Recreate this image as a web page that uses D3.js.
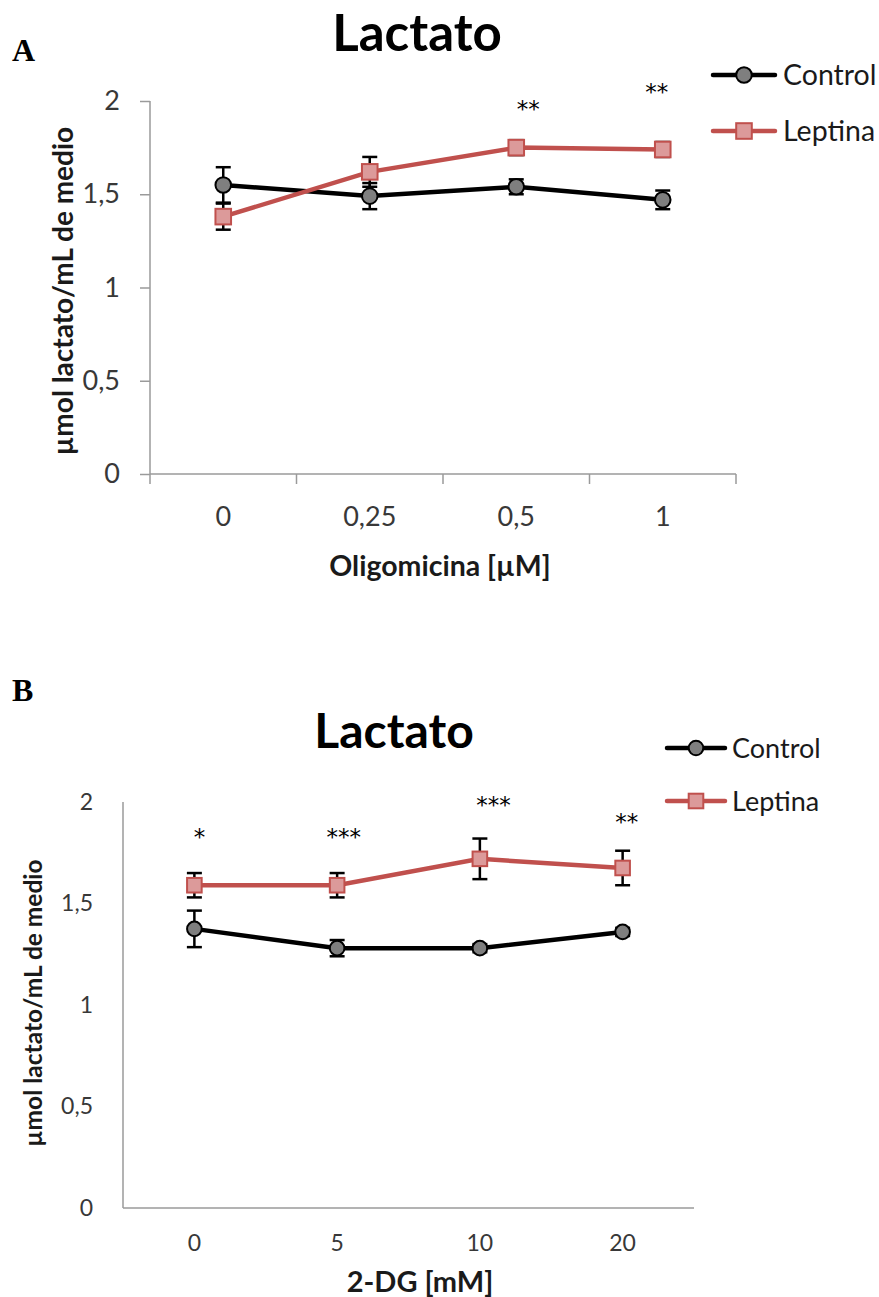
<!DOCTYPE html>
<html>
<head>
<meta charset="utf-8">
<script src="https://cdn.jsdelivr.net/npm/d3@7"></script>
<style>
  body { margin: 0; background: #fff; }
  svg text { font-family: Lato, "Open Sans", sans-serif; }
</style>
</head>
<body>
<svg id="chart" width="879" height="1297"></svg>
<script>
/* Data */
const SERIES = ['Control', 'Leptina'];
const Y_TICKS = [0, 0.5, 1, 1.5, 2];

// Panel A - Oligomicina
const A_CATEGORIES = ['0', '0,25', '0,5', '1'];
const A_CONTROL = [1.55, 1.49, 1.54, 1.47];
const A_CONTROL_ERR = [0.095, 0.07, 0.04, 0.05];
const A_LEPTINA = [1.38, 1.62, 1.75, 1.74];
const A_LEPTINA_ERR = [0.07, 0.08, 0.04, 0.04];
const A_STARS = ['', '', '**', '**'];

// Panel B - 2-DG
const B_CATEGORIES = ['0', '5', '10', '20'];
const B_CONTROL = [1.375, 1.28, 1.28, 1.36];
const B_CONTROL_ERR = [0.09, 0.04, 0.02, 0.02];
const B_LEPTINA = [1.59, 1.59, 1.72, 1.675];
const B_LEPTINA_ERR = [0.06, 0.06, 0.1, 0.085];
const B_STARS = ['*', '***', '***', '**'];

/* Style */
const RED = '#c0504d';
const PINK = '#dc9a9a';
const AXIS = '#9a9a9a';
const fmt = v => String(v).replace('.', ',');

const svg = d3.select('#chart');

function drawPanel(p) {
  const g = svg.append('g');

  const x = d3.scaleBand()
    .domain(p.categories)
    .range([p.left, p.right]);
  const y = d3.scaleLinear()
    .domain([0, 2])
    .range([p.bottom, p.top]);

  // panel letter
  g.append('text')
    .attr('x', 12).attr('y', p.letterY)
    .style('font-family', '"Liberation Serif", serif')
    .style('font-weight', 'bold')
    .style('font-size', '32px')
    .text(p.letter);

  // title
  g.append('text')
    .attr('x', p.titleX).attr('y', p.titleY)
    .attr('text-anchor', 'middle')
    .style('font-weight', 'bold')
    .style('font-size', p.titleSize)
    .text('Lactato');

  // y axis
  const yAxis = g.append('g')
    .attr('transform', `translate(${p.left},0)`)
    .call(d3.axisLeft(y).tickValues(Y_TICKS).tickFormat(fmt)
      .tickSize(p.ticks ? 10 : 0).tickPadding(p.yLabelPad));
  yAxis.select('.domain').attr('stroke', AXIS).attr('stroke-width', 1.5)
    .attr('d', `M0,${p.top}V${p.bottom}`);
  yAxis.selectAll('.tick line').attr('stroke', AXIS).attr('stroke-width', 1.5);
  yAxis.selectAll('.tick text')
    .style('font-size', p.tickSize).attr('fill', '#383838')
    .style('font-family', 'Lato, sans-serif');

  // x axis
  const xAxis = g.append('g')
    .attr('transform', `translate(0,${p.bottom})`)
    .call(d3.axisBottom(x).tickSize(0).tickPadding(p.xLabelPad));
  xAxis.select('.domain').attr('stroke', AXIS).attr('stroke-width', 1.5)
    .attr('d', `M${p.left},0H${p.right}`);
  xAxis.selectAll('.tick text')
    .style('font-size', p.tickSize).attr('fill', '#383838')
    .style('font-family', 'Lato, sans-serif');
  if (p.ticks) {
    const bounds = p.categories.map(c => x(c)).concat([p.right]);
    xAxis.selectAll('.bound')
      .data(bounds)
      .enter().append('line')
      .attr('x1', d => d).attr('x2', d => d)
      .attr('y1', 0).attr('y2', 10)
      .attr('stroke', AXIS).attr('stroke-width', 1.5);
  }

  // axis titles
  g.append('text')
    .attr('x', p.xTitleX).attr('y', p.xTitleY)
    .attr('text-anchor', 'middle')
    .style('font-weight', 'bold').style('font-size', p.xTitleSize).attr('fill', '#1a1a1a')
    .text(p.xTitle);
  g.append('text')
    .attr('transform', `translate(${p.yTitleX},${p.yTitleY}) rotate(-90)`)
    .attr('text-anchor', 'middle')
    .style('font-weight', 'bold').style('font-size', p.yTitleSize).attr('fill', '#1a1a1a')
    .text('µmol lactato/mL de medio');

  const cx = c => x(c) + x.bandwidth() / 2;
  const line = d3.line().x(d => cx(d.c)).y(d => y(d.v));

  const series = [
    { name: 'Control', vals: p.control, errs: p.controlErr, color: '#000' },
    { name: 'Leptina', vals: p.leptina, errs: p.leptinaErr, color: RED }
  ].map(s => ({ ...s, pts: p.categories.map((c, i) => ({ c, v: s.vals[i], e: s.errs[i] })) }));

  // error bars
  series.forEach(s => {
    const eb = g.append('g').selectAll('g').data(s.pts).enter().append('g')
      .attr('stroke', '#000').attr('stroke-width', 2.5);
    eb.append('line')
      .attr('x1', d => cx(d.c)).attr('x2', d => cx(d.c))
      .attr('y1', d => y(d.v - d.e)).attr('y2', d => y(d.v + d.e));
    [-1, 1].forEach(sg => {
      eb.append('line')
        .attr('x1', d => cx(d.c) - 7.5).attr('x2', d => cx(d.c) + 7.5)
        .attr('y1', d => y(d.v + sg * d.e)).attr('y2', d => y(d.v + sg * d.e));
    });
  });

  // lines
  series.forEach(s => {
    g.append('path')
      .datum(s.pts)
      .attr('fill', 'none')
      .attr('stroke', s.color)
      .attr('stroke-width', 4.5)
      .attr('d', line);
  });

  // markers
  const drawMarker = (sel, name) => {
    const r = p.markerR;
    if (name === 'Control') {
      sel.append('circle').attr('r', r)
        .attr('fill', '#7f7f7f').attr('stroke', '#000').attr('stroke-width', 2);
    } else {
      sel.append('rect').attr('x', -r).attr('y', -r)
        .attr('width', 2 * r).attr('height', 2 * r)
        .attr('fill', PINK).attr('stroke', RED).attr('stroke-width', 2);
    }
  };
  series.forEach(s => {
    const m = g.append('g').selectAll('g').data(s.pts).enter().append('g')
      .attr('transform', d => `translate(${cx(d.c)},${y(d.v)})`);
    drawMarker(m, s.name);
  });

  // significance stars
  g.append('g').selectAll('text')
    .data(p.categories.map((c, i) => ({ c, s: p.stars[i], dx: p.starDx[i], yv: p.starY[i] })))
    .enter().append('text')
    .attr('x', d => cx(d.c) + d.dx)
    .attr('y', d => d.yv)
    .attr('text-anchor', 'middle')
    .style('font-family', '"DejaVu Sans", sans-serif')
    .style('font-size', '23px')
    .text(d => d.s);

  // legend
  const L = p.legend;
  const lg = g.append('g').attr('transform', `translate(${L.x},${L.y})`);
  SERIES.forEach((name, i) => {
    const row = lg.append('g').attr('transform', `translate(0,${i * L.gap})`);
    row.append('line').attr('x1', 0).attr('x2', L.len).attr('y1', 0).attr('y2', 0)
      .attr('stroke', name === 'Control' ? '#000' : RED).attr('stroke-width', 4.5)
      .attr('stroke-linecap', 'round');
    const mk = row.append('g').attr('transform', `translate(${L.len / 2},0)`);
    drawMarker(mk, name);
    row.append('text').attr('x', L.textX).attr('y', 0).attr('dy', '0.36em')
      .style('font-size', L.size).attr('fill', '#1a1a1a')
      .text(name);
  });
}

drawPanel({
  letter: 'A', letterY: 61,
  titleX: 417, titleY: 51, titleSize: '51px',
  categories: A_CATEGORIES,
  control: A_CONTROL, controlErr: A_CONTROL_ERR,
  leptina: A_LEPTINA, leptinaErr: A_LEPTINA_ERR,
  stars: A_STARS, starDx: [0, 0, 12, -6], starY: [0, 0, 117, 100],
  left: 150, right: 736, top: 101, bottom: 474,
  ticks: true, yLabelPad: 20, xLabelPad: 33, tickSize: '27px', markerR: 7.8,
  xTitle: 'Oligomicina [µM]', xTitleX: 440, xTitleY: 576, xTitleSize: '28.5px',
  yTitleX: 73, yTitleY: 291, yTitleSize: '28px',
  legend: { x: 713, y: 75, gap: 56, len: 62, textX: 70, size: '28.5px' }
});

drawPanel({
  letter: 'B', letterY: 701,
  titleX: 394, titleY: 748, titleSize: '48px',
  categories: B_CATEGORIES,
  control: B_CONTROL, controlErr: B_CONTROL_ERR,
  leptina: B_LEPTINA, leptinaErr: B_LEPTINA_ERR,
  stars: B_STARS, starDx: [5, 6.5, 13.5, 4], starY: [845, 845, 813, 830],
  left: 123, right: 694, top: 802, bottom: 1208,
  ticks: false, yLabelPad: 30, xLabelPad: 27, tickSize: '23px', markerR: 7.3,
  xTitle: '2-DG [mM]', xTitleX: 420, xTitleY: 1292, xTitleSize: '29px',
  yTitleX: 42, yTitleY: 1003, yTitleSize: '24.5px',
  legend: { x: 667, y: 748, gap: 53, len: 58, textX: 65, size: '27px' }
});
</script>
</body>
</html>
